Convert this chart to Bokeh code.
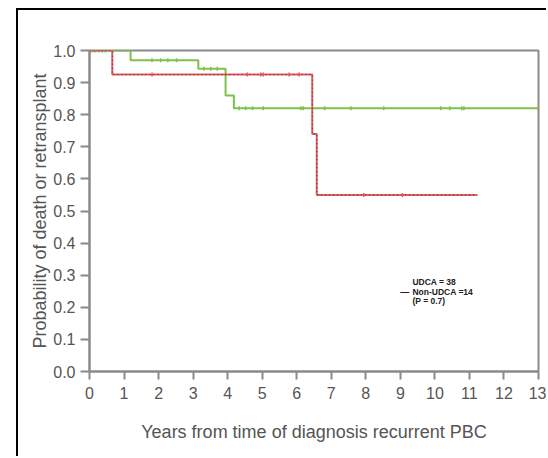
from bokeh.plotting import figure
from bokeh.models import Range1d, FixedTicker, Label
from bokeh.embed import file_html
from bokeh.resources import INLINE
import math

# UDCA curve (step: survival drops at event times)
udca_t = [0.0, 1.19, 3.15, 3.94, 4.18, 13.0]
udca_s = [1.0, 0.97, 0.943, 0.86, 0.82, 0.82]
udca_cens_t = [0.08, 0.17, 0.27, 0.37, 0.46, 1.81, 2.06, 2.27, 2.52, 3.31, 3.51, 3.70,
               4.33, 4.52, 4.72, 5.03, 6.12, 6.19, 6.81, 7.57, 8.52, 10.17, 10.43, 10.78, 10.84]
udca_cens_s = [1.0, 1.0, 1.0, 1.0, 1.0, 0.97, 0.97, 0.97, 0.97, 0.943, 0.943, 0.943,
               0.82, 0.82, 0.82, 0.82, 0.82, 0.82, 0.82, 0.82, 0.82, 0.82, 0.82, 0.82, 0.82]

# Non-UDCA curve
non_t = [0.0, 0.66, 6.45, 6.58, 11.23]
non_s = [1.0, 0.925, 0.74, 0.55, 0.55]
non_cens_t = [1.81, 4.57, 4.96, 5.03, 5.78, 6.07, 7.94, 9.06]
non_cens_s = [0.925, 0.925, 0.925, 0.925, 0.925, 0.925, 0.55, 0.55]

x_ticks = list(range(0, 14))
y_ticks = [i / 10 for i in range(0, 11)]
legend_lines = ["UDCA = 38", "Non-UDCA =14", "(P = 0.7)"]

p = figure(width=530, height=448, output_backend="svg", toolbar_location=None,
           x_range=Range1d(0, 13), y_range=Range1d(0, 1),
           min_border_left=71, min_border_right=10, min_border_top=40, min_border_bottom=87)
p.styles = {"margin-left": "16px", "margin-top": "8px",
            "border-left": "2px solid black", "border-top": "2px solid black"}
p.grid.visible = False
p.outline_line_color = "#8a8a8a"
p.outline_line_width = 2
p.background_fill_color = "white"
p.border_fill_color = "white"

for ax in (p.xaxis[0], p.yaxis[0]):
    ax.axis_line_color = "#8a8a8a"
    ax.axis_line_width = 2
    ax.major_tick_line_color = "#8a8a8a"
    ax.major_tick_line_width = 2
    ax.major_tick_in = 0
    ax.minor_tick_line_color = None
    ax.major_label_text_font = "Liberation Sans"
    ax.major_label_text_font_size = "16px"
    ax.major_label_text_color = "#555555"
    ax.axis_label_text_font = "Liberation Sans"
    ax.axis_label_text_font_size = "18px"
    ax.axis_label_text_font_style = "normal"
    ax.axis_label_text_color = "#555555"

p.xaxis.major_tick_out = 8
p.yaxis.major_tick_out = 9
p.xaxis.ticker = FixedTicker(ticks=x_ticks)
p.yaxis.ticker = FixedTicker(ticks=y_ticks)
p.yaxis.major_label_overrides = {t: f"{t:.1f}" for t in y_ticks}
p.xaxis.axis_label = "Years from time of diagnosis recurrent PBC"
p.yaxis.axis_label = "Probability of death or retransplant"
p.xaxis.major_label_standoff = 7
p.yaxis.major_label_standoff = 5
p.xaxis.axis_label_standoff = 20
p.yaxis.axis_label_standoff = 0

p.step(udca_t, udca_s, mode="after", line_color="#7cc24a", line_width=2)
p.scatter(udca_cens_t, udca_cens_s, marker="dash", angle=math.pi / 2, size=4,
          line_color="#7cc24a", line_width=1.5)

p.step(non_t, non_s, mode="after", line_color="#e65a5f", line_width=2)
p.step(non_t, non_s, mode="after", line_color="#333333", line_width=1, line_dash="1 3")
p.scatter(non_cens_t, non_cens_s, marker="dash", angle=math.pi / 2, size=4,
          line_color="#e65a5f", line_width=1.5)

for i, txt in enumerate(legend_lines):
    p.add_layout(Label(x=9.35, y=0.279 - i * 0.03, text=txt, text_font="Liberation Sans",
                       text_font_size="8.5px", text_font_style="bold", text_color="#222222",
                       text_baseline="middle"))
p.add_layout(Label(x=9.0, y=0.249, text="\u2014", text_font="Liberation Sans",
                   text_font_size="9px", text_font_style="bold", text_color="#222222",
                   text_baseline="middle"))

open("out.html", "w").write(file_html(p, INLINE))
